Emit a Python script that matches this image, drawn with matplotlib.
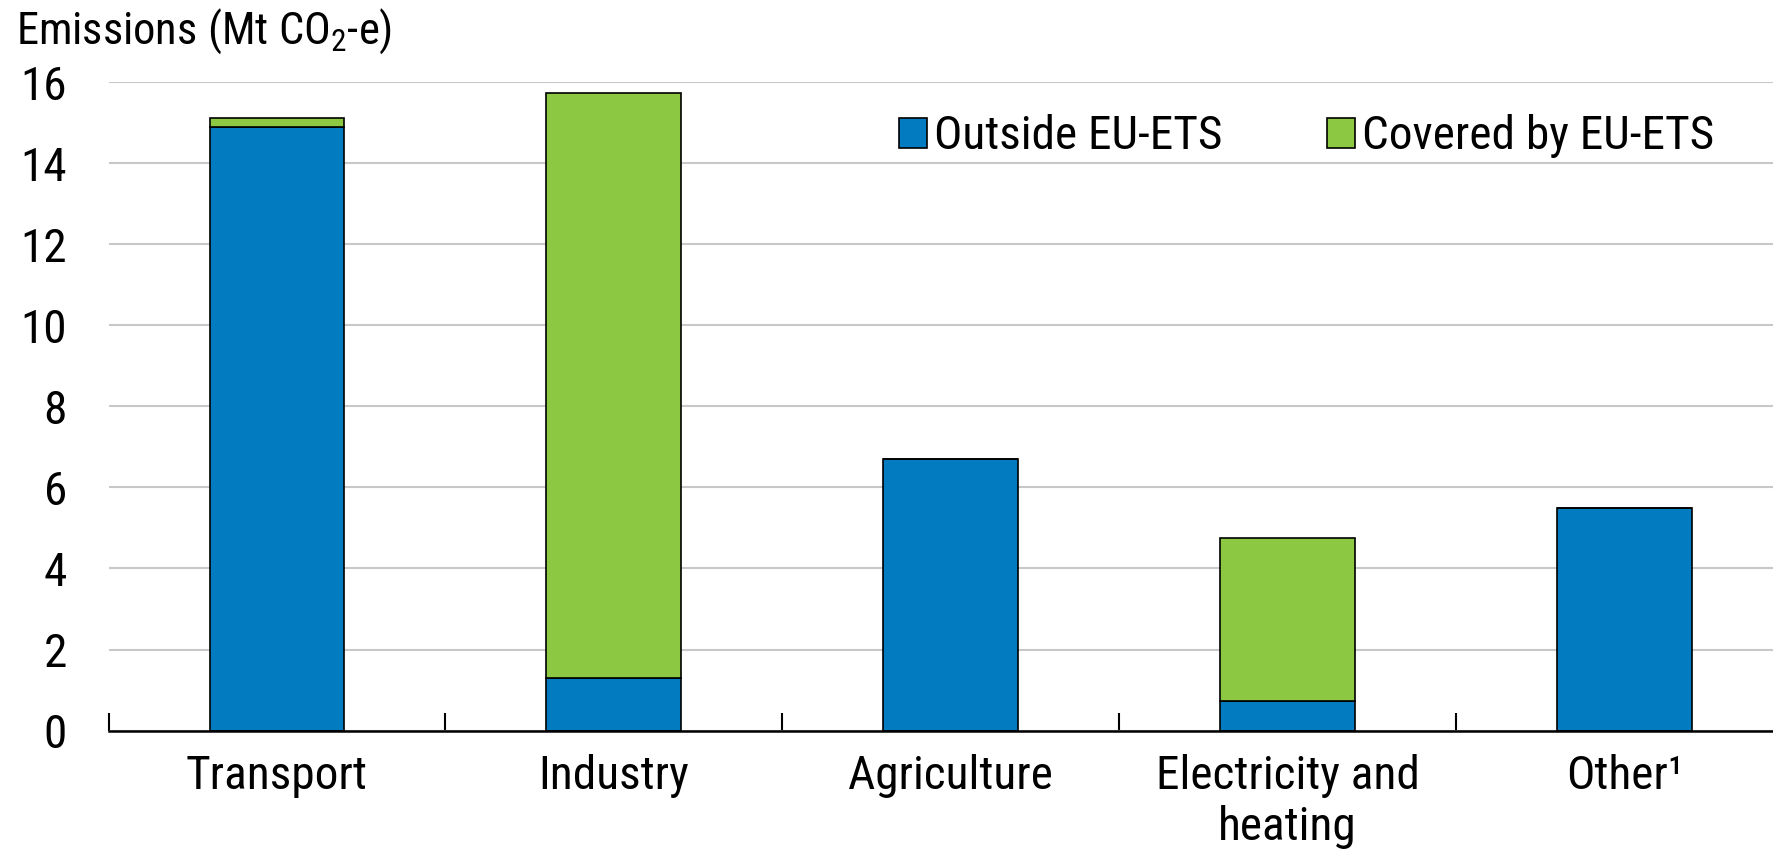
import numpy as np
import matplotlib
matplotlib.use("Agg")
import matplotlib.pyplot as plt
from matplotlib import font_manager
from matplotlib.ticker import FixedLocator

# ---- data (Mt CO2-e) ----
sectors = ["Transport", "Industry", "Agriculture", "Electricity and\nheating", "Other\u00b9"]
outside_ets = [14.9, 1.3, 6.7, 0.74, 5.5]
covered_ets = [0.21, 14.45, 0.0, 4.01, 0.0]
yticks = [0, 2, 4, 6, 8, 10, 12, 14, 16]

blue = "#037BC1"
green = "#8CC841"

# pick a narrow sans (Arial Narrow look-alike) if one is around
installed = {f.name for f in font_manager.fontManager.ttflist}
narrow = "Liberation Sans"
for cand in ["Liberation Sans Narrow", "Arial Narrow", "Roboto Condensed",
             "PT Sans Narrow", "Archivo Narrow", "Open Sans Condensed"]:
    if cand in installed:
        narrow = cand
        break

plt.rcParams['font.family'] = [narrow, 'DejaVu Sans']
plt.rcParams['mathtext.fontset'] = 'custom'
plt.rcParams['mathtext.rm'] = narrow
plt.rcParams['mathtext.it'] = narrow

fs = 34

fig = plt.figure(figsize=(17.73, 8.55), dpi=100)
ax = fig.add_axes((0.0612, 0.1456, 0.950, 0.758))

x = np.arange(len(sectors))
ax.bar(x, outside_ets, width=0.4, color=blue, edgecolor="black", linewidth=1.2,
       label="Outside EU-ETS", zorder=3)
ax.bar(x, covered_ets, width=0.4, bottom=outside_ets, color=green, edgecolor="black",
       linewidth=1.2, label="Covered by EU-ETS", zorder=3)

ax.set_xlim(-0.5, len(sectors) - 0.5)
ax.set_ylim(0, 16)
ax.set_yticks(yticks)
ax.yaxis.grid(True, color="#c8c8c8", linewidth=1.5, zorder=0)
ax.tick_params(axis="y", length=0, labelsize=fs, pad=30)

# category labels centred, ticks at boundaries
ax.xaxis.set_major_locator(FixedLocator(np.arange(len(sectors)) - 0.5))
ax.xaxis.set_minor_locator(FixedLocator(x))
ax.set_xticklabels([""] * len(sectors))
ax.set_xticklabels(sectors, minor=True)
ax.tick_params(axis="x", which="major", direction="in", length=13, width=1.5, color="black")
ax.tick_params(axis="x", which="minor", length=0, labelsize=fs, pad=17)
for lab in ax.get_xticklabels(minor=True):
    lab.set_linespacing(1.2)

for s in ["left", "right", "top"]:
    ax.spines[s].set_visible(False)
ax.spines["bottom"].set_linewidth(1.8)
ax.spines["bottom"].set_zorder(4)

leg = ax.legend(loc="center left", bbox_to_anchor=(0.458, 0.917), ncol=2, frameon=False,
                fontsize=fs, handlelength=0.6, handleheight=0.6, handletextpad=0.15,
                columnspacing=2.2, borderaxespad=0)

fig.text(0.009, 0.992, "Emissions (Mt CO$_\\mathrm{2}$-e)", fontsize=32, va="top", ha="left")

fig.savefig("out.png", dpi=100)
